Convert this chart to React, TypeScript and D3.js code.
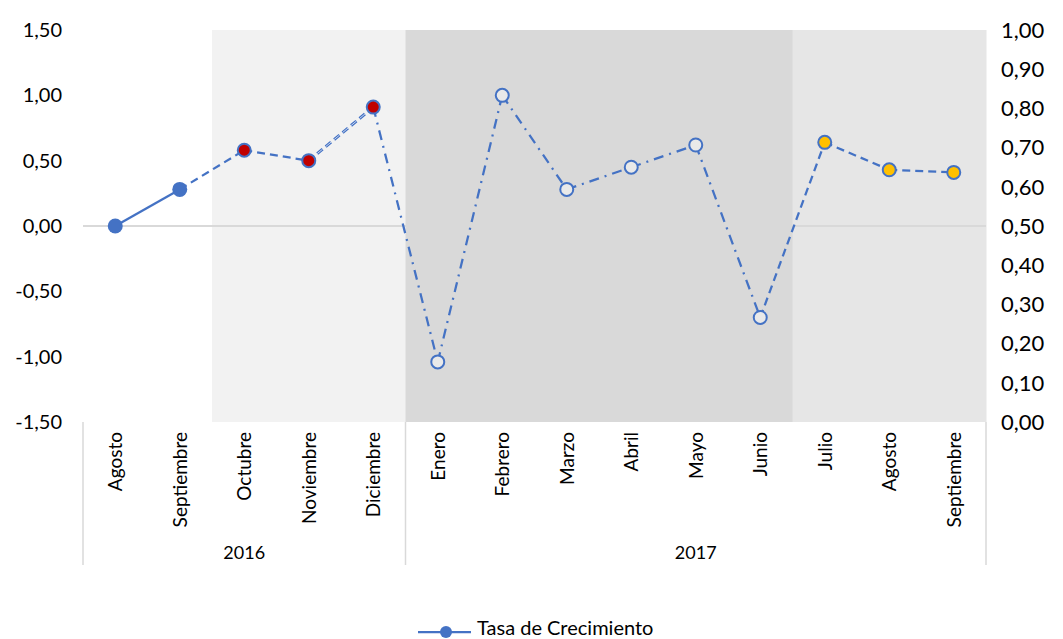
import React from 'react';
import * as d3 from 'd3';

// Monthly growth rate, Aug 2016 - Sep 2017
const months = ['Agosto', 'Septiembre', 'Octubre', 'Noviembre', 'Diciembre', 'Enero', 'Febrero', 'Marzo', 'Abril', 'Mayo', 'Junio', 'Julio', 'Agosto', 'Septiembre'];
const years = [
  { label: '2016', from: 0, to: 4 },
  { label: '2017', from: 5, to: 13 },
];
const growth = [0.0, 0.28, 0.58, 0.5, 0.91, -1.04, 1.0, 0.28, 0.45, 0.62, -0.7, 0.64, 0.43, 0.41];

// background columns on the secondary axis
const bandValues = [0, 0, 1, 1, 1, 1, 1, 1, 1, 1, 1, 1, 1, 1];
const bandGroup = ['none', 'none', 'a', 'a', 'a', 'b', 'b', 'b', 'b', 'b', 'b', 'c', 'c', 'c'];

// line style between point i and i+1
const segStyles = ['solid', 'dash', 'dash', 'double', 'dashdot', 'dashdot', 'dashdot', 'dashdot', 'dashdot', 'dashdot', 'dash', 'dash', 'dash'];
const markerTypes = ['filled', 'filled', 'red', 'red', 'red', 'open', 'open', 'open', 'open', 'open', 'open', 'yellow', 'yellow', 'yellow'];

const leftTicks = [-1.5, -1.0, -0.5, 0, 0.5, 1.0, 1.5];
const rightTicks = [0, 0.1, 0.2, 0.3, 0.4, 0.5, 0.6, 0.7, 0.8, 0.9, 1.0];

const W = 1063;
const H = 639;
const plot = { left: 83, right: 986, top: 30, bottom: 422 };
const blue = '#4472c4';
const font = 'Lato, "Open Sans", sans-serif';

const bandFill: Record<string, string> = { a: '#f2f2f2', b: '#d9d9d9', c: '#e6e6e6' };
const markerFill: Record<string, string> = { filled: blue, red: '#c00000', open: '#e9e9e9', yellow: '#ffc000' };

// comma decimals, plain hyphen for negatives
const fmt = (v: number) => v.toFixed(2).replace('.', ',');

const App: React.FC = () => {
  const idx = months.map((_, i) => i);
  const x = d3.scaleBand<number>().domain(idx).range([plot.left, plot.right]).padding(0);
  const bw = x.bandwidth();
  const cx = (i: number) => (x(i) as number) + bw / 2;
  const yL = d3.scaleLinear().domain([-1.5, 1.5]).range([plot.bottom, plot.top]);
  const yR = d3.scaleLinear().domain([0, 1]).range([plot.bottom, plot.top]);

  const line = d3.line<number>().x((i) => cx(i)).y((i) => yL(growth[i]));

  const dashFor: Record<string, string | undefined> = {
    solid: undefined,
    dash: '8 5',
    double: '7 4',
    dashdot: '10 6 2 6',
  };

  return (
    <div style={{ position: 'absolute', left: 0, top: 0 }}>
      <svg width={W} height={H} style={{ display: 'block', background: '#fff' }}>
        {/* background columns */}
        {idx.map((i) =>
          bandValues[i] > 0 ? (
            <rect
              key={`b${i}`}
              x={x(i) as number}
              y={yR(bandValues[i])}
              width={bw + 0.5}
              height={yR(0) - yR(bandValues[i])}
              fill={bandFill[bandGroup[i]]}
            />
          ) : null
        )}

        {/* zero line */}
        <line x1={plot.left} x2={plot.right} y1={yL(0)} y2={yL(0)} stroke="#d9d9d9" strokeWidth={2} />

        {/* left axis labels */}
        {leftTicks.map((t) => (
          <text key={`l${t}`} x={62} y={yL(t)} dy="0.35em" textAnchor="end" fontFamily={font} fontSize={20} fill="#000">
            {fmt(t)}
          </text>
        ))}

        {/* right axis labels */}
        {rightTicks.map((t) => (
          <text key={`r${t}`} x={1001} y={yR(t)} dy="0.35em" textAnchor="start" fontFamily={font} fontSize={22} fill="#000">
            {fmt(t)}
          </text>
        ))}

        {/* category axis separators */}
        {[plot.left, x(5) as number, plot.right].map((sx, k) => (
          <line key={`s${k}`} x1={sx} x2={sx} y1={plot.bottom} y2={565} stroke="#d9d9d9" strokeWidth={1.5} />
        ))}

        {/* month labels */}
        {months.map((m, i) => (
          <text
            key={`m${i}`}
            transform={`translate(${cx(i) + 7},${432}) rotate(-90)`}
            textAnchor="end"
            fontFamily={font}
            fontSize={19}
            fill="#000"
          >
            {m}
          </text>
        ))}

        {/* year labels */}
        {years.map((yr) => (
          <text
            key={yr.label}
            x={((x(yr.from) as number) + (x(yr.to) as number) + bw) / 2}
            y={559}
            textAnchor="middle"
            fontFamily={font}
            fontSize={18}
            fill="#000"
          >
            {yr.label}
          </text>
        ))}

        {/* line segments */}
        {segStyles.map((s, i) => (
          <g key={`seg${i}`}>
            <path
              d={line([i, i + 1]) as string}
              fill="none"
              stroke={blue}
              strokeWidth={s === 'double' ? 3 : 2.25}
              strokeDasharray={dashFor[s]}
            />
            {s === 'double' && (
              <path d={line([i, i + 1]) as string} fill="none" stroke="#c9d6ef" strokeWidth={1} strokeDasharray={dashFor[s]} />
            )}
          </g>
        ))}

        {/* markers */}
        {idx.map((i) => (
          <circle
            key={`p${i}`}
            cx={cx(i)}
            cy={yL(growth[i])}
            r={markerTypes[i] === 'filled' ? 7.5 : 6.5}
            fill={markerFill[markerTypes[i]]}
            stroke={blue}
            strokeWidth={markerTypes[i] === 'filled' ? 0 : 2}
          />
        ))}

        {/* legend */}
        <line x1={418} x2={471} y1={632} y2={632} stroke={blue} strokeWidth={2.25} />
        <circle cx={446} cy={632} r={6} fill={blue} />
        <text x={477} y={635} fontFamily={font} fontSize={20} fill="#000">
          Tasa de Crecimiento
        </text>
      </svg>
    </div>
  );
};

export default App;
